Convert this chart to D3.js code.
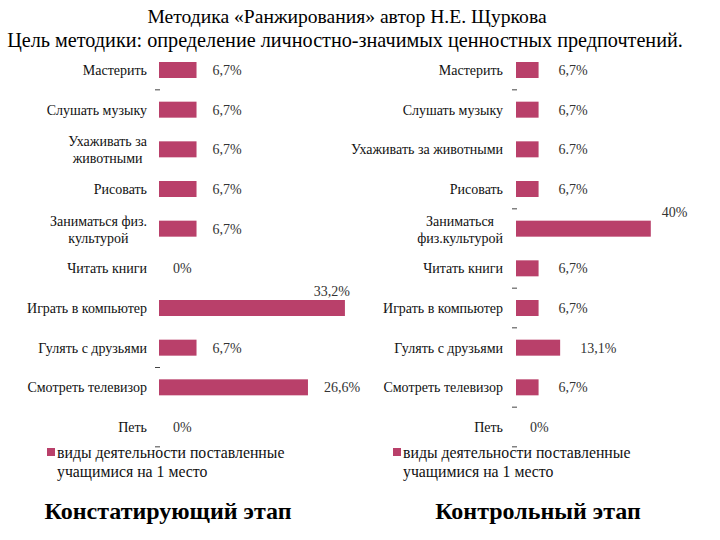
<!DOCTYPE html>
<html><head><meta charset="utf-8">
<script src="https://cdn.jsdelivr.net/npm/d3@7"></script>
<style>body{margin:0;background:#fff}svg{display:block}</style>
</head><body>
<svg id="c" width="720" height="540"></svg>
<script>
const leftCategories = ["Мастерить","Слушать музыку","Ухаживать за|животными","Рисовать","Заниматься физ.|культурой","Читать книги","Играть в компьютер","Гулять с друзьями","Смотреть телевизор","Петь"];
const rightCategories = ["Мастерить","Слушать музыку","Ухаживать за животными","Рисовать","Заниматься|физ.культурой","Читать книги","Играть в компьютер","Гулять с друзьями","Смотреть телевизор","Петь"];
const leftValues = [6.7,6.7,6.7,6.7,6.7,0,33.2,6.7,26.6,0];
const rightValues = [6.7,6.7,6.7,6.7,40,6.7,6.7,13.1,6.7,0];
const leftLabels = ["6,7%","6,7%","6,7%","6,7%","6,7%","0%","33,2%","6,7%","26,6%","0%"];
const rightLabels = ["6,7%","6,7%","6.7%","6,7%","40%","6,7%","6,7%","13,1%","6,7%","0%"];
const leftTickSlots = [1,8,10];
const rightTickSlots = [1,4,6,7,9,10];
const legendText = ["виды деятельности  поставленные","учащимися на 1 место"];
const title1 = "Методика «Ранжирования» автор Н.Е. Щуркова";
const title2 = "Цель методики: определение личностно-значимых ценностных предпочтений.";
const leftStage = "Констатирующий этап";
const rightStage = "Контрольный этап";

const svg = d3.select("#c");
const FONT = "Liberation Serif";
const barColor = "#b9406a";

svg.append("text").attr("x",347).attr("y",23).attr("text-anchor","middle")
  .attr("font-size",19.6).text(title1);
svg.append("text").attr("x",345).attr("y",47).attr("text-anchor","middle")
  .attr("font-size",20.2).text(title2);

function panel(cats, vals, labels, ticks, opt){
  const g = svg.append("g");
  const y = d3.scalePoint().domain(d3.range(cats.length)).range([70, 427]);
  const step = y.step();
  const x = d3.scaleLinear().domain([0,40]).range([opt.x0, opt.x0 + opt.pxPer*40]);
  g.selectAll("rect.bar").data(vals).join("rect").attr("class","bar")
    .attr("x", x(0)).attr("y",(d,i)=>y(i)-8)
    .attr("width", d=>x(d)-x(0)).attr("height",16)
    .attr("fill", barColor);
  g.selectAll("line.tk").data(ticks).join("line").attr("class","tk")
    .attr("x1", x(0)-4).attr("x2", x(0)+1)
    .attr("y1", d=>y(0)+(d-0.5)*step).attr("y2", d=>y(0)+(d-0.5)*step)
    .attr("stroke","#444").attr("stroke-width",1);
  cats.forEach((c,i)=>{
    const lines = c.split("|");
    const t = g.append("text").attr("font-size",14).attr("fill","#111");
    t.node().style.setProperty("font-family", FONT);
    if(lines.length===1){
      t.attr("x", opt.labelRight).attr("y", y(i)+5).attr("text-anchor","end").text(c);
    } else {
      const spans = lines.map((l,k)=>t.append("tspan").attr("y", y(i)-8+k*17+5).text(l));
      const w = Math.max(...spans.map(s=>s.node().getComputedTextLength()));
      t.attr("text-anchor","middle");
      spans.forEach(s=>s.attr("x", opt.labelRight - w/2));
    }
  });
  g.selectAll("text.val").data(vals).join("text").attr("class","val")
    .attr("font-size",14).attr("fill","#333")
    .attr("x",(d,i)=> d>30 ? x(d)+opt.bigDx : (d===0 ? x(d)+14 : x(d)+opt.dx))
    .attr("y",(d,i)=> d>30 ? y(i)-12 : y(i)+5)
    .attr("text-anchor",(d)=> d>30 ? opt.bigAnchor : "start")
    .text((d,i)=>labels[i]);
  const lg = g.append("g");
  lg.append("rect").attr("x",opt.legX).attr("y",448).attr("width",8).attr("height",8).attr("fill",barColor);
  legendText.forEach((l,k)=>{
    lg.append("text").attr("x",opt.legX+10).attr("y",458+k*19)
      .attr("font-size",15.8).attr("fill","#111").text(l);
  });
}

panel(leftCategories, leftValues, leftLabels, leftTickSlots,
  {x0:159, pxPer:5.6, labelRight:147, dx:16, bigDx:5, bigAnchor:"end", legX:47});
panel(rightCategories, rightValues, rightLabels, rightTickSlots,
  {x0:516, pxPer:3.37, labelRight:503, dx:20, bigDx:11, bigAnchor:"start", legX:393});

svg.append("text").attr("x",168).attr("y",519).attr("text-anchor","middle")
  .attr("font-size",24).attr("font-weight","bold").text(leftStage);
svg.append("text").attr("x",538).attr("y",519).attr("text-anchor","middle")
  .attr("font-size",24).attr("font-weight","bold").text(rightStage);

svg.selectAll("text").each(function(){ this.style.setProperty("font-family", FONT); });
</script>
</body></html>
